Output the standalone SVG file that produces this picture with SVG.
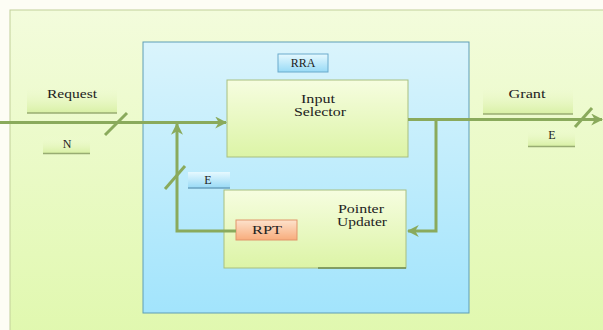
<svg xmlns="http://www.w3.org/2000/svg" width="603" height="330" viewBox="0 0 603 330" font-family="'Liberation Serif', 'DejaVu Serif', serif">
<defs>
<linearGradient id="gOuter" x1="0" y1="0" x2="0" y2="1"><stop offset="0" stop-color="#f3fcdc"/><stop offset="1" stop-color="#e0f8ae"/></linearGradient>
<linearGradient id="gBlue" x1="0" y1="0" x2="0" y2="1"><stop offset="0" stop-color="#daf4fc"/><stop offset="1" stop-color="#a2e4fc"/></linearGradient>
<linearGradient id="gBlock" x1="0" y1="0" x2="0" y2="1"><stop offset="0" stop-color="#f6fde0"/><stop offset="1" stop-color="#dcf4a6"/></linearGradient>
<linearGradient id="gLabel" x1="0" y1="0" x2="0" y2="1"><stop offset="0" stop-color="#f2fbd8" stop-opacity="0"/><stop offset="1" stop-color="#d8f0a4"/></linearGradient>
<linearGradient id="gBlueLabel" x1="0" y1="0" x2="0" y2="1"><stop offset="0" stop-color="#e6f9ff"/><stop offset="1" stop-color="#98daf6"/></linearGradient>
<linearGradient id="gOrange" x1="0" y1="0" x2="0" y2="1"><stop offset="0" stop-color="#fde2cc"/><stop offset="1" stop-color="#f8ac7c"/></linearGradient>
<marker id="arr" viewBox="0 0 10 10" refX="9" refY="5" markerWidth="4" markerHeight="4" orient="auto" markerUnits="strokeWidth">
<path d="M0,0 L10,5 L0,10 L3,5 Z" fill="#8aaa5c"/>
</marker>
</defs>
<style>
text{font-family:'Liberation Serif','DejaVu Serif',serif}
.t{font-size:12px;fill:#222;text-anchor:middle}
.ln{fill:none;stroke:#8aaa5c;stroke-width:3}
.blk{fill:url(#gBlock);stroke:#a8bf80;stroke-width:1}
.lbl{fill:url(#gLabel);stroke:none}
.lblline{stroke:#98ac72;stroke-width:1.5}
</style>
<rect x="0" y="0" width="603" height="330" fill="#fdfdf5"/>
<g id="outer"><rect x="10" y="10" width="600" height="330" fill="url(#gOuter)" stroke="#c2cf9a" stroke-width="1"/></g>
<g id="rra"><rect x="143" y="42" width="326" height="271" fill="url(#gBlue)" stroke="#5f9db5" stroke-width="1"/></g>
<g id="rra-label"><rect x="278" y="54" width="50" height="18" fill="url(#gBlueLabel)" stroke="#6aaacb" stroke-width="1"/><text class="t" x="303" y="67" font-size="11">RRA</text></g>
<g id="input-selector"><rect x="227" y="80" width="181" height="77" class="blk"/><text class="t" x="318" y="103" textLength="34" lengthAdjust="spacingAndGlyphs">Input</text><text class="t" x="320" y="116" textLength="52" lengthAdjust="spacingAndGlyphs">Selector</text></g>
<g id="pointer-updater"><rect x="224" y="190" width="182" height="78" class="blk"/><line x1="318" y1="268" x2="406" y2="268" stroke="#6f8a4e" stroke-width="1.5"/><text class="t" x="361" y="213" font-size="11.5" textLength="46" lengthAdjust="spacingAndGlyphs">Pointer</text><text class="t" x="362" y="226" font-size="11.5" textLength="50" lengthAdjust="spacingAndGlyphs">Updater</text></g>
<g id="rpt"><rect x="236" y="220" width="61" height="20" fill="url(#gOrange)" stroke="#e0956a" stroke-width="1"/><text class="t" x="267" y="234" textLength="30" lengthAdjust="spacingAndGlyphs">RPT</text></g>
<g id="request"><rect x="27" y="84" width="90" height="29" class="lbl"/><line x1="27" y1="113" x2="117" y2="113" class="lblline"/><text class="t" x="72" y="98" textLength="50" lengthAdjust="spacingAndGlyphs">Request</text></g>
<g id="n"><rect x="43" y="136" width="47" height="17" class="lbl"/><line x1="43" y1="153.5" x2="90" y2="153.5" class="lblline"/><text class="t" x="67" y="148">N</text></g>
<g id="grant"><rect x="483" y="84" width="90" height="30" class="lbl"/><line x1="483" y1="114" x2="573" y2="114" class="lblline"/><text class="t" x="527" y="98" textLength="37" lengthAdjust="spacingAndGlyphs">Grant</text></g>
<g id="e-out"><rect x="528" y="128" width="47" height="18" class="lbl"/><line x1="528" y1="146.5" x2="575" y2="146.5" class="lblline"/><text class="t" x="552" y="139">E</text></g>
<g id="e-in"><rect x="188" y="172" width="42" height="16" fill="url(#gBlueLabel)" stroke="none"/><line x1="188" y1="188" x2="230" y2="188" stroke="#6aa2bf" stroke-width="1.5"/><text class="t" x="208" y="184">E</text></g>
<g id="connectors">
<path class="ln" d="M0,122.5 L226,122.5" marker-end="url(#arr)"/>
<line class="ln" x1="105" y1="135" x2="127" y2="113"/>
<path class="ln" d="M408,119.5 L602,119.5" marker-end="url(#arr)"/>
<line class="ln" x1="575" y1="127" x2="592" y2="108"/>
<path class="ln" d="M436,119.5 L436,231 L408,231" marker-end="url(#arr)"/>
<path class="ln" d="M236,231 L177,231 L177,124" marker-end="url(#arr)"/>
<line class="ln" x1="165" y1="189" x2="185" y2="166"/>
</g>
</svg>
